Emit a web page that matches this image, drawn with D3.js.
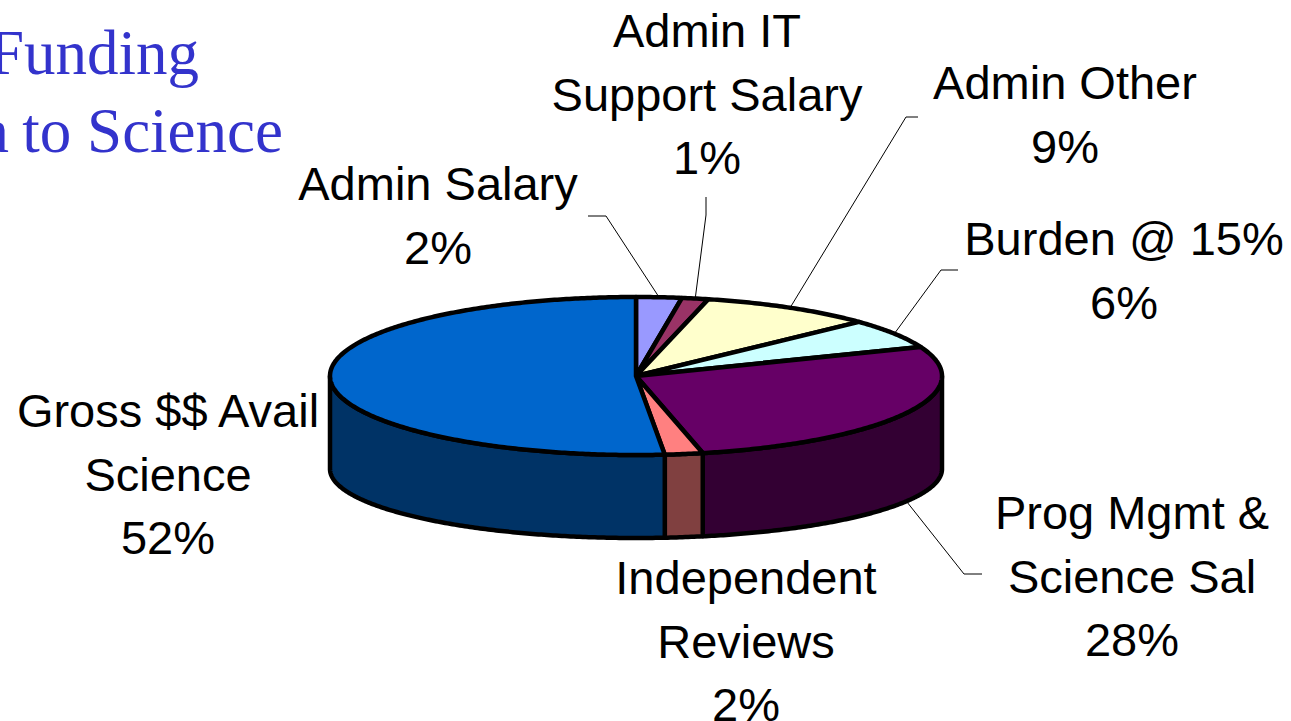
<!DOCTYPE html>
<html>
<head>
<meta charset="utf-8">
<script src="https://cdn.jsdelivr.net/npm/d3@7/dist/d3.min.js"></script>
<style>
  html, body { margin: 0; padding: 0; background: #ffffff; }
  svg { display: block; }
</style>
</head>
<body>
<svg id="chart" width="1291" height="721"></svg>
<script>
// ---- data ----
const categories = ["Admin Salary", "Admin IT Support Salary", "Admin Other", "Burden @ 15%",
                    "Prog Mgmt & Science Sal", "Independent Reviews", "Gross $$ Avail Science"];
const values = [2.4, 1.4, 9.2, 6.0, 27.5, 2.0, 51.5];
const labelLines = [["Admin Salary"], ["Admin IT", "Support Salary"], ["Admin Other"], ["Burden @ 15%"],
                    ["Prog Mgmt &", "Science Sal"], ["Independent", "Reviews"], ["Gross $$ Avail", "Science"]];
const topColors  = ["#9999FF", "#993366", "#FFFFCC", "#CCFFFF", "#660066", "#FF8080", "#0066CC"];
const sideColors = ["#4C4C80", "#4C1933", "#808066", "#668080", "#330033", "#804040", "#003366"];
const titleLines = ["Funding", "to Science"];
const titleFragment = "a";

// ---- layout (label anchors, leader elbows) ----
const labelLayout = [
  { x: 438,  y: 200, leader: [[606, 216], [588, 216]] },
  { x: 707,  y: 47,  leader: [[706, 215], [706, 197]] },
  { x: 1065, y: 99,  leader: [[906, 117], [918, 117]] },
  { x: 1124, y: 255, leader: [[941, 270], [958, 270]] },
  { x: 1132, y: 529, leader: [[964, 574], [982, 574]] },
  { x: 746,  y: 594, leader: null },
  { x: 168,  y: 427, leader: null }
];

const svg = d3.select("#chart");

// ellipse geometry of the 3D pie
const cx = 636, cy = 376, rx = 306, ry = 79;
const cyB = 469, ryB = 69;          // bottom rim (slightly flatter, perspective)
const topPt = a => [cx + rx * Math.sin(a), cy - ry * Math.cos(a)];
const botPt = a => [cx + rx * Math.sin(a), cyB - ryB * Math.cos(a)];

const pie = d3.pie().sort(null).value(d => d)(values);
const line = d3.line();

function arcPts(fn, a0, a1) {
  const n = Math.max(2, Math.ceil(Math.abs(a1 - a0) / 0.01));
  return d3.range(n + 1).map(i => fn(a0 + (a1 - a0) * i / n));
}

const gSide = svg.append("g");
const gTop = svg.append("g");
const SW = 4.5;

// side walls (front half only: angles between PI/2 and 3PI/2)
pie.forEach((p, i) => {
  const s = Math.max(p.startAngle, Math.PI / 2);
  const e = Math.min(p.endAngle, 3 * Math.PI / 2);
  if (e <= s) return;
  const pts = arcPts(topPt, s, e).concat(arcPts(botPt, e, s));
  gSide.append("path")
    .attr("d", line(pts) + "Z")
    .attr("fill", sideColors[i])
    .attr("stroke", "#000")
    .attr("stroke-width", SW)
    .attr("stroke-linejoin", "round");
});

// top faces
pie.forEach((p, i) => {
  const pts = [[cx, cy]].concat(arcPts(topPt, p.startAngle, p.endAngle));
  gTop.append("path")
    .attr("d", line(pts) + "Z")
    .attr("fill", topColors[i])
    .attr("stroke", "#000")
    .attr("stroke-width", SW)
    .attr("stroke-linejoin", "round");
});

// leader lines
const gLead = svg.append("g");
pie.forEach((p, i) => {
  const L = labelLayout[i];
  if (!L.leader) return;
  const mid = (p.startAngle + p.endAngle) / 2;
  const front = mid > Math.PI / 2 && mid < 3 * Math.PI / 2;
  const start = front ? botPt(mid) : topPt(mid);
  gLead.append("path")
    .attr("d", line([start].concat(L.leader)))
    .attr("fill", "none")
    .attr("stroke", "#000")
    .attr("stroke-width", 1);
});

// labels
const gLab = svg.append("g")
  .attr("font-family", "'Liberation Sans', Arial, sans-serif")
  .attr("font-size", 47)
  .attr("fill", "#000")
  .attr("text-anchor", "middle");
const lh = 63.5;
pie.forEach((p, i) => {
  const L = labelLayout[i];
  const lines = labelLines[i].concat([Math.round(values[i]) + "%"]);
  lines.forEach((t, k) => {
    gLab.append("text").attr("x", L.x).attr("y", L.y + k * lh).text(t);
  });
});

// title (cut off at the left edge, as in the original slide)
const gTitle = svg.append("g")
  .attr("font-family", "'Liberation Serif', 'Times New Roman', serif")
  .attr("font-size", 63)
  .attr("fill", "#3333CC")
  .attr("text-anchor", "end");
gTitle.append("text").attr("x", 199).attr("y", 74).text(titleLines[0]);
gTitle.append("text").attr("x", 283).attr("y", 152).text(titleLines[1]);
gTitle.append("text").attr("x", 9).attr("y", 152).text(titleFragment);
</script>
</body>
</html>
